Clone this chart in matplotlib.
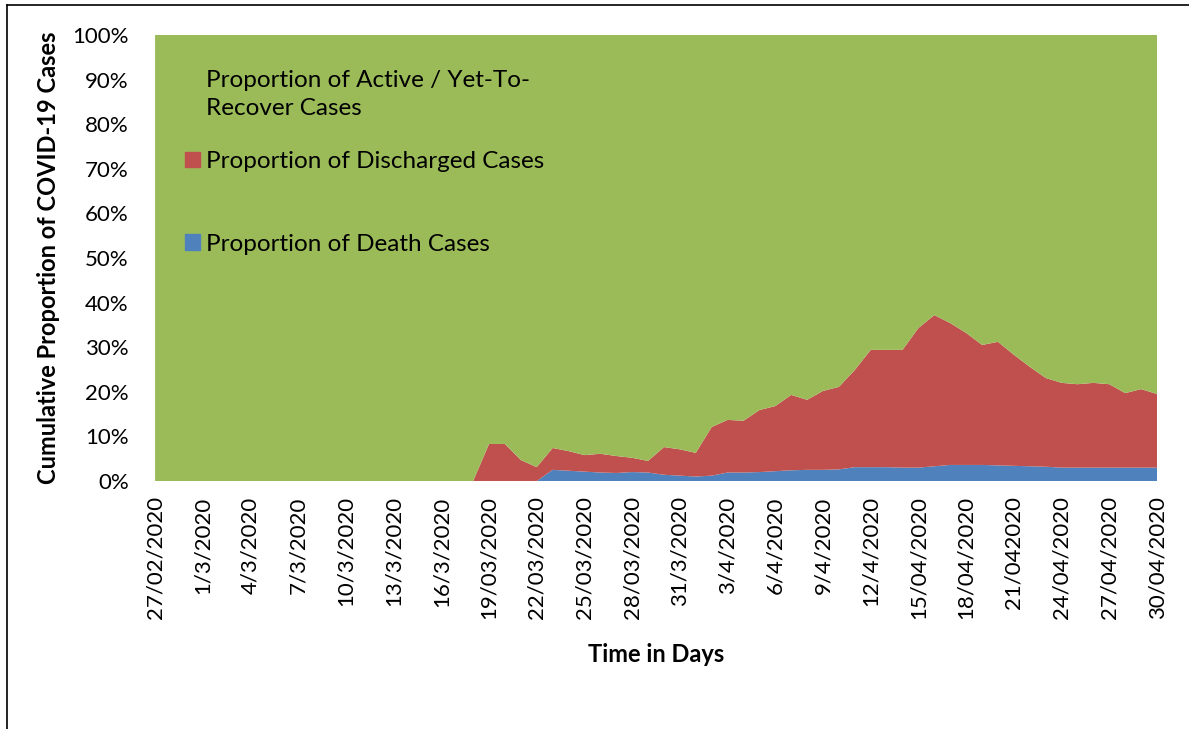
import numpy as np
import matplotlib
matplotlib.use('Agg')
import matplotlib.pyplot as plt
from matplotlib.patches import Patch
from matplotlib.lines import Line2D
from matplotlib.ticker import PercentFormatter

plt.rcParams['font.family'] = ['Lato', 'DejaVu Sans']

# tick labels, one every third day (27/02/2020 .. 30/04/2020)
tick_labels = [
    '27/02/2020', '1/3/2020', '4/3/2020', '7/3/2020', '10/3/2020', '13/3/2020',
    '16/3/2020', '19/03/2020', '22/03/2020', '25/03/2020', '28/03/2020',
    '31/3/2020', '3/4/2020', '6/4/2020', '9/4/2020', '12/4/2020', '15/04/2020',
    '18/04/2020', '21/042020', '24/04/2020', '27/04/2020', '30/04/2020',
]

# cumulative proportion (%) of death cases, one value per day
death_pct = [
    0, 0, 0, 0, 0, 0, 0, 0, 0, 0,
    0, 0, 0, 0, 0, 0, 0, 0, 0, 0,
    0, 0, 0, 0, 0, 2.5, 2.3, 2.1, 1.9, 1.8,
    2.0, 1.9, 1.4, 1.2, 1.0, 1.2, 1.9, 1.9, 2.0, 2.2,
    2.4, 2.5, 2.5, 2.6, 3.1, 3.1, 3.1, 3.0, 3.0, 3.3,
    3.6, 3.6, 3.6, 3.5, 3.4, 3.3, 3.2, 3.0, 3.0, 3.0,
    3.0, 3.0, 3.0, 3.0,
]

# cumulative proportion (%) of discharged cases, one value per day
discharged_pct = [
    0, 0, 0, 0, 0, 0, 0, 0, 0, 0,
    0, 0, 0, 0, 0, 0, 0, 0, 0, 0,
    0, 8.3, 8.3, 4.7, 3.1, 4.9, 4.4, 3.7, 4.2, 3.8,
    3.2, 2.6, 6.2, 5.9, 5.3, 10.9, 11.8, 11.6, 13.9, 14.6,
    16.9, 15.7, 17.7, 18.5, 21.8, 26.3, 26.3, 26.4, 31.3, 33.9,
    31.8, 29.6, 26.9, 27.7, 24.9, 22.3, 19.9, 19.0, 18.7, 19.0,
    18.7, 16.7, 17.6, 16.5,
]

death = np.array(death_pct)
discharged = np.array(discharged_pct)
active = 100 - death - discharged
days = np.arange(len(death))

fig = plt.figure(figsize=(11.89, 7.29), dpi=100)
ax = fig.add_axes([0.1304, 0.3402, 0.8427, 0.6118])

colors = ['#4F81BD', '#C0504D', '#9BBB59']
labels = ['Proportion of Death Cases', 'Proportion of Discharged Cases',
          'Proportion of Active / Yet-To-\nRecover Cases']
ax.stackplot(days, death, discharged, active, colors=colors, linewidth=0)

ax.set_xlim(0, len(days) - 1)
ax.set_ylim(0, 100)
ax.set_yticks(np.arange(0, 101, 10))
ax.yaxis.set_major_formatter(PercentFormatter(decimals=0))
ax.set_xticks(days[::3])
ax.set_xticklabels(tick_labels, rotation=90)
ax.tick_params(axis='both', length=0, labelsize=16)
ax.tick_params(axis='y', pad=19)
ax.tick_params(axis='x', pad=11)
for s in ax.spines.values():
    s.set_visible(False)

ax.set_ylabel('Cumulative Proportion of COVID-19 Cases', fontsize=17,
              fontweight='bold', labelpad=9)
ax.set_xlabel('Time in Days', fontsize=17, fontweight='bold', labelpad=17)

# legend: active + discharged, then death entry further down
leg_kw = dict(frameon=False, fontsize=17.5, handlelength=0.62,
              handleheight=0.62, handletextpad=0.25, borderpad=0,
              borderaxespad=0)
handles = [Patch(color=c) for c in colors]
leg1 = ax.legend([handles[2], handles[1]], [labels[2], labels[1]],
                 loc='upper left', bbox_to_anchor=(0.030, 0.922),
                 labelspacing=1.3, **leg_kw)
leg1.get_texts()[0].set_linespacing(1.45)
ax.add_artist(leg1)
ax.legend([handles[0]], [labels[0]], loc='center left',
          bbox_to_anchor=(0.030, 0.531), **leg_kw)

# outer frame (top and left edges)
fig.add_artist(Line2D([0.0059, 1], [0.9938, 0.9938], color='black', lw=1.2))
fig.add_artist(Line2D([0.0059, 0.0059], [0, 0.9938], color='black', lw=1.2))

fig.savefig('out.png', dpi=100)
